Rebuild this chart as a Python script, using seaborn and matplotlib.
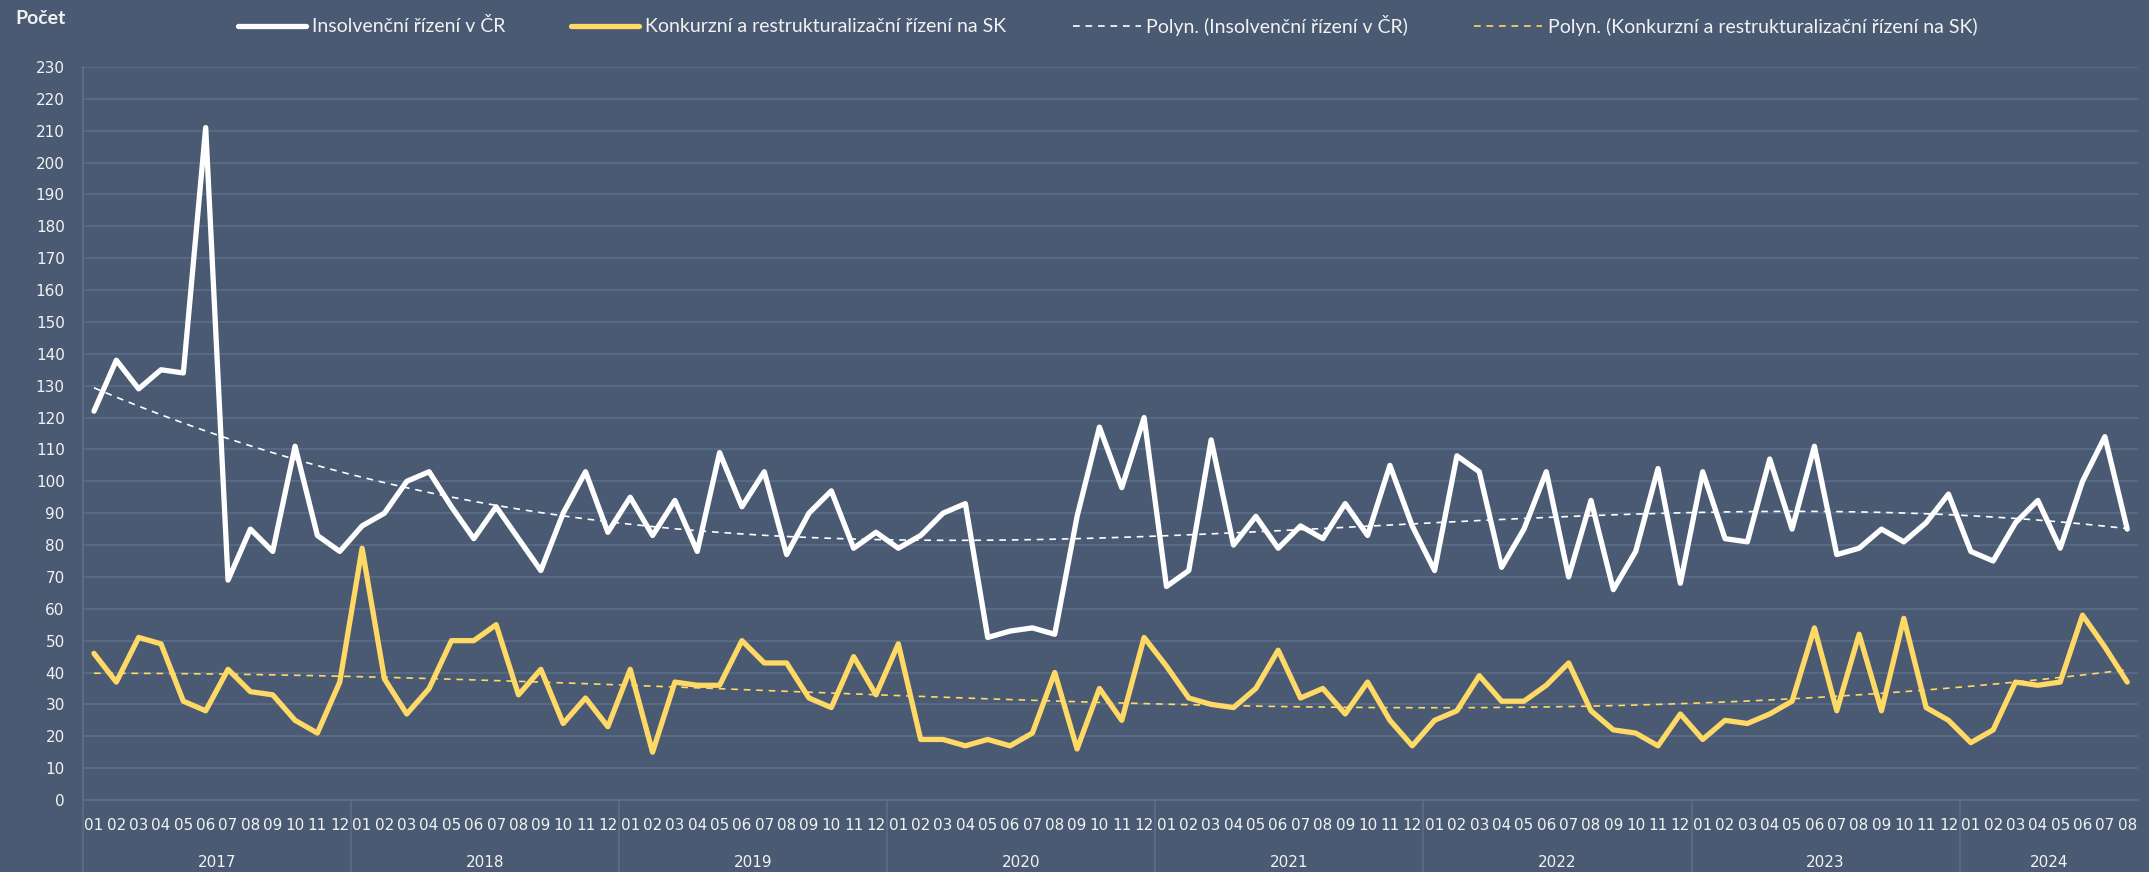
import numpy as np
import pandas as pd
import matplotlib
matplotlib.use("Agg")
import matplotlib.pyplot as plt
import matplotlib.transforms as mtransforms
import seaborn as sns

# Months Jan 2017 - Aug 2024
years = ["2017", "2018", "2019", "2020", "2021", "2022", "2023", "2024"]
months_per_year = [12, 12, 12, 12, 12, 12, 12, 8]
month_labels = [f"{m:02d}" for n in months_per_year for m in range(1, n + 1)]

cz_label = "Insolvenční řízení v ČR"
sk_label = "Konkurzní a restrukturalizační řízení na SK"

cz = [122, 138, 129, 135, 134, 211, 69, 85, 78, 111, 83, 78,
      86, 90, 100, 103, 92, 82, 92, 82, 72, 90, 103, 84,
      95, 83, 94, 78, 109, 92, 103, 77, 90, 97, 79, 84,
      79, 83, 90, 93, 51, 53, 54, 52, 89, 117, 98, 120,
      67, 72, 113, 80, 89, 79, 86, 82, 93, 83, 105, 86,
      72, 108, 103, 73, 85, 103, 70, 94, 66, 78, 104, 68,
      103, 82, 81, 107, 85, 111, 77, 79, 85, 81, 87, 96,
      78, 75, 87, 94, 79, 100, 114, 85]
sk = [46, 37, 51, 49, 31, 28, 41, 34, 33, 25, 21, 37,
      79, 38, 27, 35, 50, 50, 55, 33, 41, 24, 32, 23,
      41, 15, 37, 36, 36, 50, 43, 43, 32, 29, 45, 33,
      49, 19, 19, 17, 19, 17, 21, 40, 16, 35, 25, 51,
      42, 32, 30, 29, 35, 47, 32, 35, 27, 37, 25, 17,
      25, 28, 39, 31, 31, 36, 43, 28, 22, 21, 17, 27,
      19, 25, 24, 27, 31, 54, 28, 52, 28, 57, 29, 25,
      18, 22, 37, 36, 37, 58, 48, 37]

df = pd.DataFrame({"pos": np.arange(len(cz)), "cz": cz, "sk": sk})

# Excel-style polynomial trendlines (x = 1..n)
xf = df["pos"] + 1
df["cz_trend"] = np.polyval(np.polyfit(xf, df["cz"], 3), xf)
df["sk_trend"] = np.polyval(np.polyfit(xf, df["sk"], 3), xf)

bg = "#4A5A73"
grid_c = "#5C6D88"
yellow = "#FFD966"
txt = "#F2F2F2"
narrow = ["Lato", "DejaVu Sans"]

sns.set_style("dark")
fig = plt.figure(figsize=(21.49, 8.72), dpi=100)
fig.patch.set_facecolor(bg)
ax = fig.add_axes([82.8 / 2149, 1 - 800 / 872, (2138.4 - 82.8) / 2149, 733 / 872])
ax.set_facecolor(bg)

sns.lineplot(data=df, x="pos", y="cz", ax=ax, color="white", linewidth=3.8,
             label=cz_label, solid_joinstyle="round", solid_capstyle="round")
sns.lineplot(data=df, x="pos", y="sk", ax=ax, color=yellow, linewidth=3.8,
             label=sk_label, solid_joinstyle="round", solid_capstyle="round")
sns.lineplot(data=df, x="pos", y="cz_trend", ax=ax, color="white", linewidth=1.2,
             label="Polyn. (" + cz_label + ")", dashes=False, linestyle=(0, (4, 3.5)))
sns.lineplot(data=df, x="pos", y="sk_trend", ax=ax, color=yellow, linewidth=1.2,
             label="Polyn. (" + sk_label + ")", dashes=False, linestyle=(0, (4, 3.5)))

ax.set_xlim(-0.5, len(cz) - 0.5)
ax.set_ylim(0, 230)
ax.set_yticks(np.arange(0, 231, 10))
ax.yaxis.grid(True, color=grid_c, linewidth=1.2)
ax.xaxis.grid(False)
ax.set_axisbelow(True)
ax.tick_params(axis="y", length=0, pad=13, labelsize=11, labelcolor=txt)
for t in ax.get_yticklabels():
    t.set_fontfamily("DejaVu Sans")

ax.set_xticks(df["pos"])
ax.set_xticklabels(month_labels, fontsize=11, color=txt, fontfamily="DejaVu Sans")
ax.tick_params(axis="x", which="major", length=0, pad=13)
ax.set_xticks(np.arange(-0.5, len(cz), 1), minor=True)
ax.tick_params(axis="x", which="minor", length=26, color=grid_c, width=1.2)
ax.set_xlabel("")
ax.set_ylabel("")

for s in ["top", "right"]:
    ax.spines[s].set_visible(False)
for s in ["left", "bottom"]:
    ax.spines[s].set_visible(True)
    ax.spines[s].set_color(grid_c)
    ax.spines[s].set_linewidth(1.4)

# year groups below month labels
trans = mtransforms.blended_transform_factory(ax.transData, ax.transAxes)
start = 0
for yr, n in zip(years, months_per_year):
    ax.text(start + (n - 1) / 2, -62 / 733, yr, transform=trans, ha="center",
            va="center", fontsize=11, color=txt, fontfamily="DejaVu Sans")
    ax.plot([start - 0.5, start - 0.5], [0, -72 / 733], transform=trans,
            color=grid_c, linewidth=1.2, clip_on=False)
    start += n

handles, labels = ax.get_legend_handles_labels()
ax.get_legend().remove()
leg = fig.legend(handles, labels, loc="center", bbox_to_anchor=(1108 / 2149, 1 - 25 / 872),
                 ncol=4, frameon=False, handlelength=3.5, handletextpad=0.3,
                 columnspacing=3.4, prop={"family": narrow, "size": 14})
for t in leg.get_texts():
    t.set_color(txt)

fig.text(15 / 2149, 1 - 18 / 872, "Počet", fontsize=14, fontweight="bold",
         color=txt, va="center", ha="left", fontfamily=narrow)

fig.savefig("out.png", dpi=100, facecolor=bg)
